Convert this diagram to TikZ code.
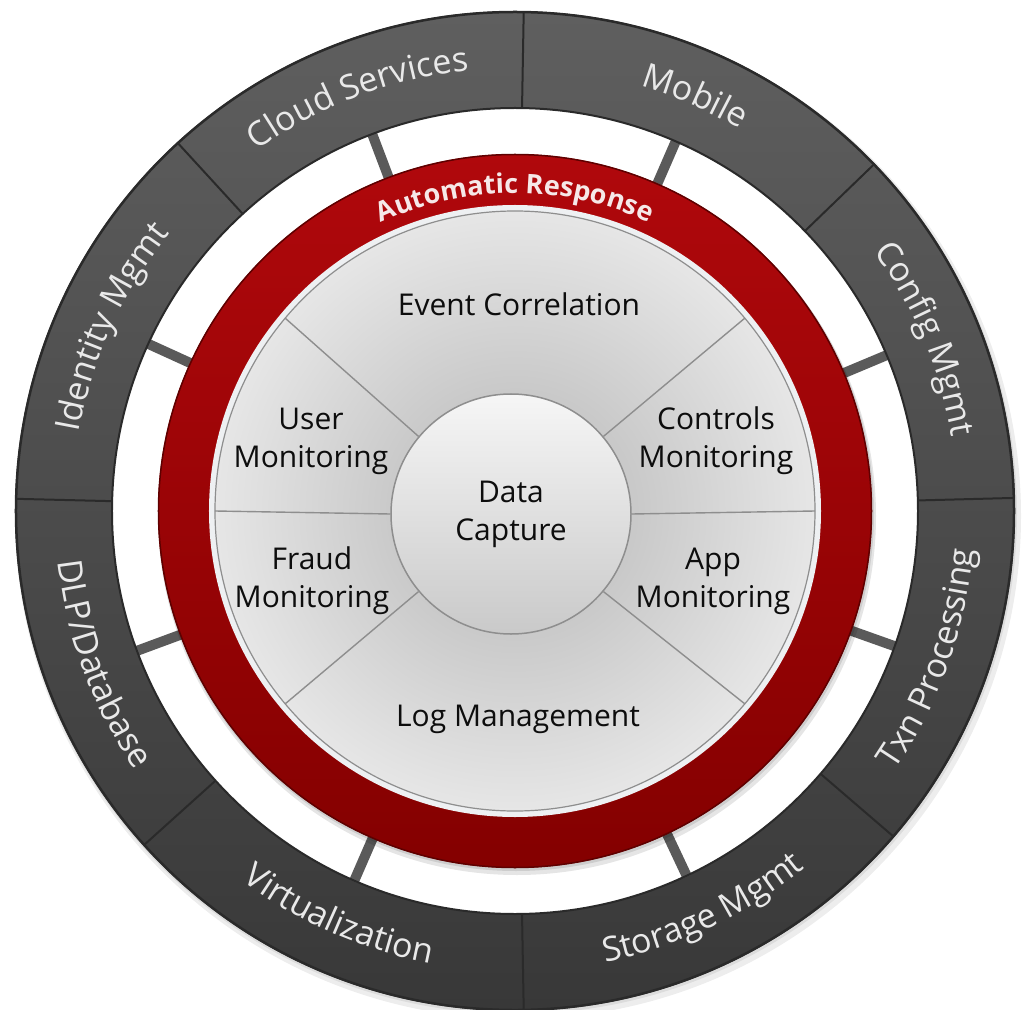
\documentclass[tikz,border=0pt]{standalone}
\usepackage{fontspec}
\setmainfont{Open Sans}
\usepackage{tikz}
\usetikzlibrary{decorations.text}

\definecolor{ringtop}{HTML}{5F5F5F}
\definecolor{ringbottom}{HTML}{383838}
\definecolor{ringline}{HTML}{2A2A2A}
\definecolor{tabgray}{HTML}{5A5A5A}
\definecolor{redtop}{HTML}{B0080C}
\definecolor{redbottom}{HTML}{840000}
\definecolor{redline}{HTML}{5E0000}
\definecolor{rimgray}{HTML}{EEF0F2}
\definecolor{disklight}{HTML}{E6E6E6}
\definecolor{diskdark}{HTML}{C9C9C9}
\definecolor{divgray}{HTML}{8E8E8E}
\definecolor{labelwhite}{HTML}{E9E9E9}
\definecolor{redlabelwhite}{HTML}{F6E8E8}

\pgfdeclareradialshading{diskshade}{\pgfpoint{0bp}{0bp}}{color(0bp)=(diskdark); color(10bp)=(diskdark); color(25bp)=(disklight); color(50bp)=(disklight)}

\newcommand\ringfont{\fontsize{34}{34}\selectfont}
\newcommand\responsefont{\fontsize{27}{27}\selectfont\bfseries}

\begin{document}
\begin{tikzpicture}[x=1pt, y=1pt,
  innerlabel/.style={font=\fontsize{30}{38}\selectfont, text=black!95, align=center},
  outerlabel/.style={decorate, decoration={text along path, text align=center, text color=labelwhite}},
  redlabel/.style={decorate, decoration={text along path, text align=center, text color=redlabelwhite}},
  tab/.style={tabgray, line width=10pt},
  ringdivider/.style={ringline, line width=2pt},
  segdivider/.style={divgray, line width=1.4pt}]
\useasboundingbox (-515,-498) rectangle (512,511);

% outer ring with its soft shadow
\fill[black, opacity=.07] (3,-5) circle (503);
\fill[black, opacity=.07] (1,-2) circle (501);
\path[top color=ringtop, bottom color=ringbottom] (0,0) circle (500);
\draw[ringline, line width=2.5pt] (0,0) circle (499);
\fill[white] (0,0) circle (403);

% borders between the eight segments
\draw[ringdivider] (1.5:403) -- (1.5:500);
\draw[ringdivider] (44:403) -- (44:500);
\draw[ringdivider] (89:403) -- (89:500);
\draw[ringdivider] (132.5:403) -- (132.5:500);
\draw[ringdivider] (178.6:403) -- (178.6:500);
\draw[ringdivider] (222:403) -- (222:500);
\draw[ringdivider] (271:403) -- (271:500);
\draw[ringdivider] (319.3:403) -- (319.3:500);

% tabs from each segment to the red ring
\coordinate (config) at (22.75:404);   \coordinate (config red) at (22.75:350);
\coordinate (mobile) at (66.5:404);    \coordinate (mobile red) at (66.5:350);
\coordinate (cloud) at (110.75:404);   \coordinate (cloud red) at (110.75:350);
\coordinate (identity) at (155.5:404); \coordinate (identity red) at (155.5:350);
\coordinate (dlp) at (200.3:404);      \coordinate (dlp red) at (200.3:350);
\coordinate (virt) at (246.5:404);     \coordinate (virt red) at (246.5:350);
\coordinate (storage) at (295.2:404);  \coordinate (storage red) at (295.2:350);
\coordinate (txn) at (340.4:404);      \coordinate (txn red) at (340.4:350);
\draw[tab] (config) -- (config red);
\draw[tab] (mobile) -- (mobile red);
\draw[tab] (cloud) -- (cloud red);
\draw[tab] (identity) -- (identity red);
\draw[tab] (dlp) -- (dlp red);
\draw[tab] (virt) -- (virt red);
\draw[tab] (storage) -- (storage red);
\draw[tab] (txn) -- (txn red);
\draw[ringline, line width=2pt] (0,0) circle (403);

% segment labels, upper half read clockwise, lower half counter-clockwise
\path[outerlabel, decoration={text={|\ringfont|Config Mgmt}}] (47.75:443) arc[start angle=47.75, end angle=-2.25, radius=443];
\path[outerlabel, decoration={text={|\ringfont|Mobile}}] (91.5:443) arc[start angle=91.5, end angle=41.5, radius=443];
\path[outerlabel, decoration={text={|\ringfont|Cloud Services}}] (135.75:443) arc[start angle=135.75, end angle=85.75, radius=443];
\path[outerlabel, decoration={text={|\ringfont|Identity Mgmt}}] (180.5:443) arc[start angle=180.5, end angle=130.5, radius=443];
\path[outerlabel, decoration={text={|\ringfont|DLP/Database}}] (175.3:460) arc[start angle=175.3, end angle=225.3, radius=460];
\path[outerlabel, decoration={text={|\ringfont|Virtualization}}] (221.5:460) arc[start angle=221.5, end angle=271.5, radius=460];
\path[outerlabel, decoration={text={|\ringfont|Storage Mgmt}}] (270.2:460) arc[start angle=270.2, end angle=320.2, radius=460];
\path[outerlabel, decoration={text={|\ringfont|Txn Processing}}] (315.4:460) arc[start angle=315.4, end angle=365.4, radius=460];

% red response ring
\fill[black, opacity=.10] (2,-5) circle (359);
\fill[black, opacity=.10] (1,-2) circle (358);
\path[top color=redtop, bottom color=redbottom] (0,0) circle (357);
\draw[redline, line width=1.5pt] (0,0) circle (356.5);
\path[redlabel, decoration={text={|\responsefont|Automatic Response}}] (118:318) arc[start angle=118, end angle=62, radius=318];

% grey disk of monitoring segments
\fill[rimgray] (0,0) circle (306);
\path[shading=diskshade] (0,0) circle (300);
\draw[divgray, line width=1.2pt] (0,0) circle (300);

\node[circle, minimum size=240pt, inner sep=0pt, draw=divgray, line width=1.5pt,
  top color=gray!7, bottom color=gray!42, innerlabel] (capture) at (-4,-3) {Data\\Capture};

\draw[segdivider] (capture.0) -- (0:300);
\draw[segdivider] (capture.40) -- (40:300);
\draw[segdivider] (capture.140) -- (140:300);
\draw[segdivider] (capture.180) -- (180:300);
\draw[segdivider] (capture.220) -- (220:300);
\draw[segdivider] (capture.320) -- (320:300);

\node[innerlabel] (event) at (4,207) {Event Correlation};
\node[innerlabel] (user) at (-204,70) {User\\Monitoring};
\node[innerlabel] (controls) at (201,70) {Controls\\Monitoring};
\node[innerlabel] (fraud) at (-203,-70) {Fraud\\Monitoring};
\node[innerlabel] (app) at (198,-70) {App\\Monitoring};
\node[innerlabel] (log) at (3,-208) {Log Management};
\end{tikzpicture}
\end{document}
